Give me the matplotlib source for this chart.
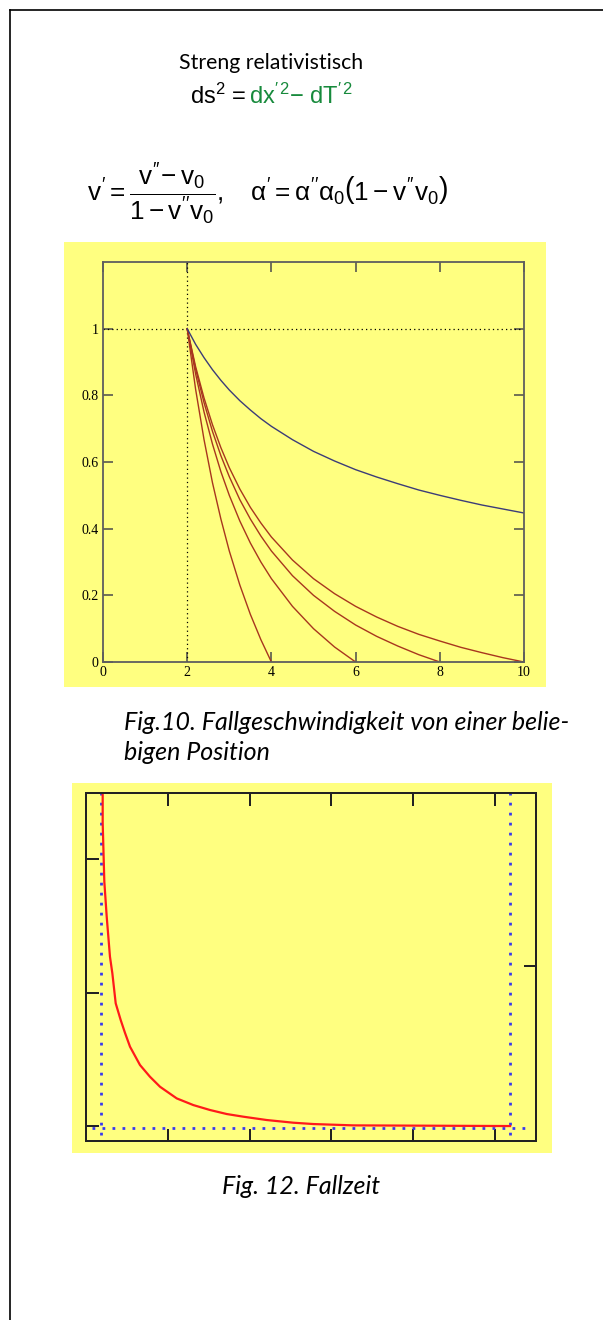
import matplotlib.pyplot as plt
from matplotlib.patches import Rectangle
from matplotlib.lines import Line2D

plt.rcParams['mathtext.fontset'] = 'custom'
plt.rcParams['mathtext.rm'] = 'Liberation Sans'
plt.rcParams['mathtext.it'] = 'Liberation Sans'
plt.rcParams['mathtext.bf'] = 'Liberation Sans:bold'

# BILDGROESSE IN PIXEL
W, H = 603, 1320
GELB = '#ffff80'

# DATEN FIG.10
x_blau = [2, 2.2, 2.4, 2.6, 2.8, 3, 3.25, 3.5, 3.75, 4, 4.5, 5, 5.5, 6, 6.5, 7, 7.5, 8, 8.5, 9, 9.5, 10]
v_blau = [1.0, 0.953, 0.913, 0.877, 0.845, 0.816, 0.784, 0.756, 0.730, 0.707, 0.667, 0.632, 0.603,
          0.577, 0.555, 0.535, 0.516, 0.500, 0.485, 0.471, 0.459, 0.447]

x_rot4 = [2, 2.2, 2.4, 2.6, 2.8, 3, 3.25, 3.5, 3.75, 4]
v_rot4 = [1.0, 0.818, 0.667, 0.538, 0.429, 0.333, 0.231, 0.143, 0.067, 0.0]

x_rot6 = [2, 2.2, 2.4, 2.6, 2.8, 3, 3.25, 3.5, 3.75, 4, 4.5, 5, 5.5, 6]
v_rot6 = [1.0, 0.864, 0.750, 0.654, 0.571, 0.500, 0.423, 0.357, 0.300, 0.250, 0.167, 0.100, 0.045, 0.0]

x_rot8 = [2, 2.2, 2.4, 2.6, 2.8, 3, 3.25, 3.5, 3.75, 4, 4.5, 5, 5.5, 6, 6.5, 7, 7.5, 8]
v_rot8 = [1.0, 0.879, 0.778, 0.692, 0.619, 0.556, 0.487, 0.429, 0.378, 0.333, 0.259, 0.200, 0.152,
          0.111, 0.077, 0.048, 0.022, 0.0]

x_rot10 = [2, 2.2, 2.4, 2.6, 2.8, 3, 3.25, 3.5, 3.75, 4, 4.5, 5, 5.5, 6, 6.5, 7, 7.5, 8, 8.5, 9, 9.5, 10]
v_rot10 = [1.0, 0.886, 0.792, 0.712, 0.643, 0.583, 0.519, 0.464, 0.417, 0.375, 0.306, 0.250, 0.205,
           0.167, 0.135, 0.107, 0.083, 0.063, 0.044, 0.028, 0.013, 0.0]

x_ticks1 = [0, 2, 4, 6, 8, 10]
y_ticks1 = [0, 0.2, 0.4, 0.6, 0.8, 1]
y_labels1 = ['0', '0.2', '0.4', '0.6', '0.8', '1']

# DATEN FIG.12 (Skala ohne Beschriftung)
t_x = [0.204, 0.204, 0.224, 0.253, 0.293, 0.322, 0.363, 0.424, 0.477, 0.538, 0.660, 0.782, 0.905,
       1.109, 1.312, 1.516, 1.720, 1.923, 2.209, 2.534, 2.779, 3.268, 5.183]
t_y = [2.70, 2.27, 1.83, 1.568, 1.268, 1.144, 0.919, 0.794, 0.697, 0.594, 0.457, 0.369, 0.294,
       0.207, 0.157, 0.120, 0.090, 0.070, 0.045, 0.025, 0.015, 0.005, 0.0]


def fx(px):
    return px / W


def fy(py):
    return 1 - py / H


fig = plt.figure(figsize=(W / 100, H / 100), dpi=100)
fig.patch.set_facecolor('white')

# RAHMEN (nur links und oben sichtbar)
fig.add_artist(Line2D([fx(10), fx(10)], [fy(10), fy(1320)], color='black', lw=1.2))
fig.add_artist(Line2D([fx(10), fx(603)], [fy(10), fy(10)], color='black', lw=1.2))

# TEXTE OBEN
fig.text(fx(271), fy(63), 'Streng relativistisch', ha='center', va='center', family='Lato', size=15.3)
fig.text(fx(246), fy(104), r'ds$^2$ =', ha='right', va='baseline', family='Liberation Sans', size=17)
fig.text(fx(249), fy(104), r'dx$^{\prime\,2}$$-$ dT$^{\prime\,2}$', ha='left', va='baseline',
         family='Liberation Sans', size=17, color='#178a3c')
fig.text(fx(267), fy(194),
         r"$v^{\prime} = \dfrac{v^{\prime\prime}\!-v_0}{1-v^{\prime\prime}v_0},\quad"
         r"\alpha^{\prime} = \alpha^{\prime\prime}\alpha_0\left(1-v^{\prime\prime}v_0\right)$",
         ha='center', va='center', size=18.8)

# FIG.10
fig.add_artist(Rectangle((fx(64), fy(687)), (546 - 64) / W, (687 - 242) / H,
                         transform=fig.transFigure, facecolor=GELB, edgecolor='none', zorder=0))
ax1 = fig.add_axes([fx(103), fy(662), (524 - 103) / W, (662 - 262) / H])
ax1.set_facecolor(GELB)
ax1.plot([0, 10], [1, 1], color='black', lw=0.9, ls=(0, (1, 2.5)))
ax1.plot([2, 2], [0, 1.2], color='black', lw=0.9, ls=(0, (1, 2.5)))
ax1.plot(x_rot4, v_rot4, color='#a8361e', lw=1)
ax1.plot(x_rot6, v_rot6, color='#a8361e', lw=1)
ax1.plot(x_rot8, v_rot8, color='#a8361e', lw=1)
ax1.plot(x_rot10, v_rot10, color='#a8361e', lw=1)
ax1.plot(x_blau, v_blau, color='#3c3c78', lw=1)
ax1.set_xlim(0, 10)
ax1.set_ylim(0, 1.2)
ax1.set_xticks(x_ticks1)
ax1.set_xticklabels([str(v) for v in x_ticks1])
ax1.set_yticks(y_ticks1)
ax1.set_yticklabels(y_labels1)
ax1.tick_params(direction='in', length=7, width=1.1, color='#4a4a4a', top=True, right=True,
                labelsize=10, pad=3)
for lab in ax1.get_xticklabels() + ax1.get_yticklabels():
    lab.set_family('Liberation Serif')
for sp in ax1.spines.values():
    sp.set_color('#5e5e5e')
    sp.set_linewidth(1.3)

fig.text(fx(124), fy(722), 'Fig.10. Fallgeschwindigkeit von einer belie-', ha='left', va='center',
         family='Lato', style='italic', size=18)
fig.text(fx(124), fy(753), 'bigen Position', ha='left', va='center',
         family='Lato', style='italic', size=18)

# FIG.12
fig.add_artist(Rectangle((fx(72), fy(1153)), (552 - 72) / W, (1153 - 783) / H,
                         transform=fig.transFigure, facecolor=GELB, edgecolor='none', zorder=0))
ax2 = fig.add_axes([fx(86), fy(1141), (536 - 86) / W, (1141 - 793) / H])
ax2.set_facecolor(GELB)
ax2.set_xlim(0, 5.5)
ax2.set_ylim(-0.112, 2.494)
punkt = (0, (1, 2.6))
ax2.plot([0.18, 0.18], [-0.07, 2.494], color='#3838f0', lw=2, ls=punkt)
ax2.plot([5.18, 5.18], [-0.07, 2.494], color='#3838f0', lw=2, ls=punkt)
ax2.plot([0.07, 5.40], [-0.015, -0.015], color='#3838f0', lw=2, ls=punkt)
ax2.plot(t_x, t_y, color='#ff1a1a', lw=1.6)
ax2.set_xticks([1, 2, 3, 4, 5])
ax2.set_yticks([0, 1, 2])
ax2.tick_params(direction='in', length=9, width=1.44, color='#222222', top=True,
                labelbottom=False, labelleft=False)
rechts = ax2.secondary_yaxis('right')
rechts.set_yticks([1.2, 2.494])
rechts.tick_params(direction='in', length=9, width=1.44, color='#222222', labelright=False)
for sp in list(ax2.spines.values()) + list(rechts.spines.values()):
    sp.set_color('#222222')
    sp.set_linewidth(1.44)

fig.text(fx(301), fy(1187), 'Fig. 12. Fallzeit', ha='center', va='center',
         family='Lato', style='italic', size=18)

plt.savefig('out.png', dpi=100)
